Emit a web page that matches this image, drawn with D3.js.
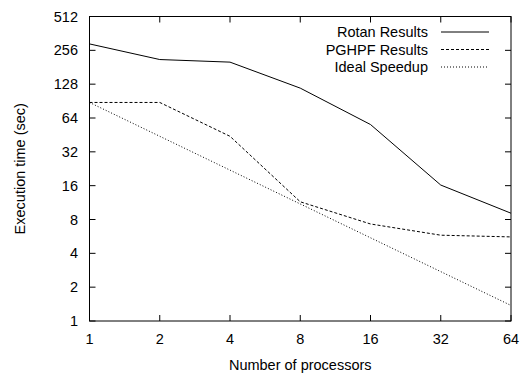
<!DOCTYPE html>
<html>
<head>
<meta charset="utf-8">
<script src="https://cdn.jsdelivr.net/npm/d3@7"></script>
<style>
  body { margin: 0; background: #fff; }
  text { font-family: "Liberation Sans", Arial, sans-serif; fill: #000; }
</style>
</head>
<body>
<div id="chart"></div>
<script>
var processors = [1, 2, 4, 8, 16, 32, 64];
var rotanTimes = [292, 212, 201, 118, 56, 16.2, 9.1];
var pghpfTimes = [88, 88, 44, 11.5, 7.3, 5.8, 5.6];
var idealTimes = [88, 44, 22, 11, 5.5, 2.75, 1.375];
var yTicks = [1, 2, 4, 8, 16, 32, 64, 128, 256, 512];

var series = [
    { label: "Rotan Results", values: rotanTimes, dash: null },
    { label: "PGHPF Results", values: pghpfTimes, dash: "3,2" },
    { label: "Ideal Speedup", values: idealTimes, dash: "1,2" }
];

var width = 523, height = 375;
var plotLeft = 89.5, plotRight = 511, plotTop = 16.5, plotBottom = 321;
var fontSize = "14.5px";

var svg = d3.select("#chart").append("svg")
    .attr("width", width)
    .attr("height", height);

var x = d3.scaleLog().base(2).domain([1, 64]).range([plotLeft, plotRight]);
var y = d3.scaleLog().base(2).domain([1, 512]).range([plotBottom, plotTop]);

// ticks on all four sides, pointing inward
var tickLen = 6;
var axes = svg.append("g").attr("stroke", "#000").attr("stroke-width", 1);
processors.forEach(function(p) {
    axes.append("line").attr("x1", x(p)).attr("x2", x(p))
        .attr("y1", plotBottom).attr("y2", plotBottom - tickLen);
    axes.append("line").attr("x1", x(p)).attr("x2", x(p))
        .attr("y1", plotTop).attr("y2", plotTop + tickLen);
});
yTicks.forEach(function(t) {
    axes.append("line").attr("x1", plotLeft).attr("x2", plotLeft + tickLen)
        .attr("y1", y(t)).attr("y2", y(t));
    axes.append("line").attr("x1", plotRight).attr("x2", plotRight - tickLen)
        .attr("y1", y(t)).attr("y2", y(t));
});
svg.append("rect")
    .attr("x", plotLeft).attr("y", plotTop)
    .attr("width", plotRight - plotLeft).attr("height", plotBottom - plotTop)
    .attr("fill", "none").attr("stroke", "#000");

svg.selectAll(".xlab")
    .data(processors)
    .enter().append("text")
    .attr("class", "xlab")
    .attr("x", d => x(d))
    .attr("y", 344)
    .attr("text-anchor", "middle")
    .style("font-size", fontSize)
    .text(d => d);

svg.selectAll(".ylab")
    .data(yTicks)
    .enter().append("text")
    .attr("class", "ylab")
    .attr("x", 78)
    .attr("y", d => y(d))
    .attr("dy", "0.35em")
    .attr("text-anchor", "end")
    .style("font-size", fontSize)
    .text(d => d);

svg.append("text")
    .attr("x", (plotLeft + plotRight) / 2)
    .attr("y", 370)
    .attr("text-anchor", "middle")
    .style("font-size", fontSize)
    .text("Number of processors");

svg.append("text")
    .attr("transform", "translate(25," + ((plotTop + plotBottom) / 2) + ") rotate(-90)")
    .attr("text-anchor", "middle")
    .style("font-size", fontSize)
    .text("Execution time (sec)");

var line = d3.line()
    .x((d, i) => x(processors[i]))
    .y(d => y(d));

series.forEach(function(s, i) {
    svg.append("path")
        .attr("d", line(s.values))
        .attr("fill", "none")
        .attr("stroke", "#000")
        .attr("stroke-width", 1)
        .attr("stroke-dasharray", s.dash);

    var ly = 32 + i * 17.5;
    svg.append("text")
        .attr("x", 428)
        .attr("y", ly)
        .attr("dy", "0.35em")
        .attr("text-anchor", "end")
        .style("font-size", fontSize)
        .text(s.label);
    svg.append("line")
        .attr("x1", 441).attr("x2", 489)
        .attr("y1", ly).attr("y2", ly)
        .attr("stroke", "#000")
        .attr("stroke-width", 1)
        .attr("stroke-dasharray", s.dash);
});
</script>
</body>
</html>
